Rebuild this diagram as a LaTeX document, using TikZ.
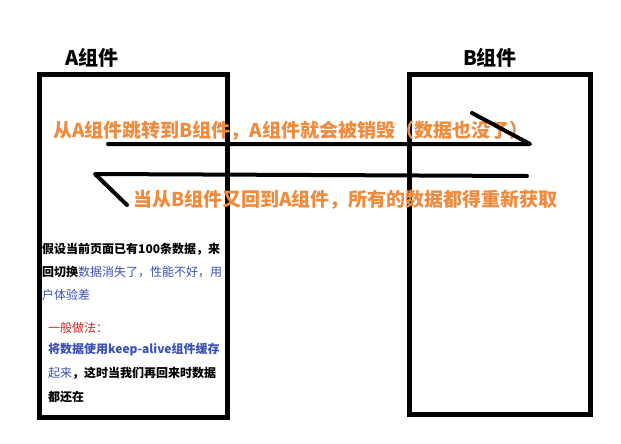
\documentclass[tikz,border=0pt]{standalone}
\usepackage{fontspec}
\setmainfont{Noto Sans CJK SC}
\definecolor{hintorange}{RGB}{240,138,60}
\definecolor{noteblue}{RGB}{58,79,176}
\definecolor{notered}{RGB}{224,32,32}
\begin{document}
\begin{tikzpicture}[x=1pt,y=-1pt]
  \tikzset{
    compbox/.style={draw,line width=5pt,inner sep=0pt,outer sep=0pt},
    flowline/.style={line width=4pt,line cap=round,line join=round},
    title/.style={font=\bfseries\fontsize{20}{24}\selectfont,inner sep=0pt},
    hint/.style={anchor=west,text=hintorange,font=\bfseries\fontsize{19}{23}\selectfont,inner sep=0pt},
    note/.style={anchor=west,font=\fontsize{12}{14}\selectfont,inner sep=0pt},
  }
  \useasboundingbox (0,0) rectangle (621,444);
  % the two components
  \node[compbox,minimum width=188pt,minimum height=343pt] (boxA) at (133.5,246) {};
  \node[compbox,minimum width=181pt,minimum height=340pt] (boxB) at (500,244.5) {};
  \node[title] (titleA) at (92,57.5) {A组件};
  \node[title] (titleB) at (490,58) {B组件};
  % what happens when switching
  \node[hint] (goB)   at (53,130.5) {从A组件跳转到B组件，A组件就会被销毁（数据也没了）};
  \node[hint] (backA) at (133,200)  {当从B组件又回到A组件，所有的数据都得重新获取};
  \coordinate (s1) at (108,144);
  \coordinate (e1) at (530,144);
  \coordinate (b1) at (472,113);
  \coordinate (s2) at (527,176);
  \coordinate (e2) at (95,174);
  \coordinate (b2) at (127,205);
  \draw[flowline] (s1) -- (e1) -- (b1);
  \draw[flowline] (s2) -- (e2) -- (b2);
  % notes inside A
  \node[note] (n1) at (42,249) {\bfseries 假设当前页面已有100条数据，来};
  \node[note] (n2) at (42,272) {\textbf{回切换}\textcolor{noteblue}{数据消失了，性能不好，用}};
  \node[note,text=noteblue] (n3) at (42,295) {户体验差};
  \node[note,text=notered] (n4) at (48,328) {一般做法：};
  \node[note,text=noteblue] (n5) at (48,350) {\bfseries 将数据使用keep-alive组件缓存};
  \node[note] (n6) at (48,373) {\textcolor{noteblue}{起来}\textbf{，这时当我们再回来时数据}};
  \node[note] (n7) at (48,397) {\bfseries 都还在};
\end{tikzpicture}
\end{document}
